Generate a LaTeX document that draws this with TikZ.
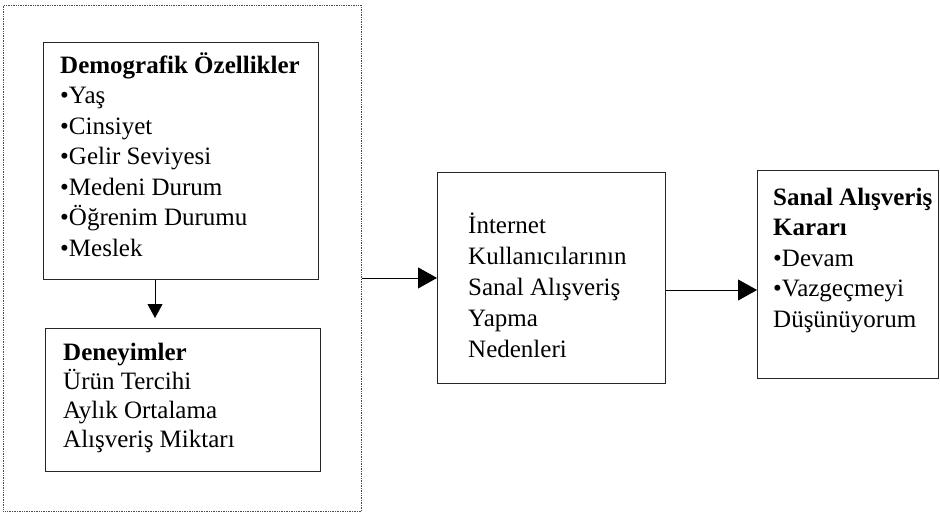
\documentclass[tikz,border=0pt]{standalone}
\usepackage{fontspec}
\setmainfont{Liberation Serif}
\usetikzlibrary{arrows.meta}

\begin{document}
\begin{tikzpicture}[x=1pt,y=1pt,yscale=-1,xscale=1,
  box/.style={draw=black!85, line width=0.9pt, inner sep=0pt, anchor=north west},
  group/.style={draw=black!70, line width=0.8pt, dash pattern={on 0.6pt off 1.1pt}, inner sep=0pt, anchor=north west},
  txt/.style={anchor=base west, align=left, inner sep=0pt, font=\fontsize{25}{30}\selectfont},
  arr/.style={line width=0.8pt, -{Triangle[length=19pt,width=21pt]}},
  arrsmall/.style={line width=0.8pt, -{Triangle[length=14pt,width=15pt]}}]
\useasboundingbox (0,0) rectangle (940,514);

%Shape: dotted frame round the two left boxes
\node [group, minimum width=358, minimum height=506] (left) at (3,5) {};
%Shape: boxes
\node [box, minimum width=275, minimum height=237] (demog) at (43,42) {};
\node [box, minimum width=275, minimum height=143] (deney) at (45,328) {};
\node [box, minimum width=228, minimum height=211] (reasons) at (437,172) {};
\node [box, minimum width=181, minimum height=208] (decision) at (757,170) {};

% Text Node (placed at the baseline of its last line)
\node [txt, font=\fontsize{25}{30.5}\selectfont] (demogtxt) at (60,256) {\textbf{Demografik Özellikler}\\•Yaş\\•Cinsiyet\\•Gelir Seviyesi\\•Medeni Durum\\•Öğrenim Durumu\\•Meslek};
% Text Node
\node [txt, font=\fontsize{25}{29}\selectfont] (deneytxt) at (63,447) {\textbf{Deneyimler}\\Ürün Tercihi\\Aylık Ortalama\\Alışveriş Miktarı};
% Text Node
\node [txt, font=\fontsize{25}{31}\selectfont] (reasonstxt) at (468,357) {İnternet\\Kullanıcılarının\\Sanal Alışveriş\\Yapma\\Nedenleri};
% Text Node
\node [txt, font=\fontsize{25}{30.5}\selectfont] (decisiontxt) at (773,327) {\textbf{Sanal Alışveriş}\\\textbf{Kararı}\\•Devam\\•Vazgeçmeyi\\Düşünüyorum};

%Straight Lines: arrows
\draw [arrsmall, shorten >=10pt] (demog.south -| 155,0) -- (deney.north -| 155,0) ;
\draw [arr] (left.east |- reasons.west) -- (reasons.west) ;
\coordinate (out2) at (reasons.east |- 0,290);
\draw [arr] (out2) -- (out2 -| decision.west) ;

\end{tikzpicture}
\end{document}
